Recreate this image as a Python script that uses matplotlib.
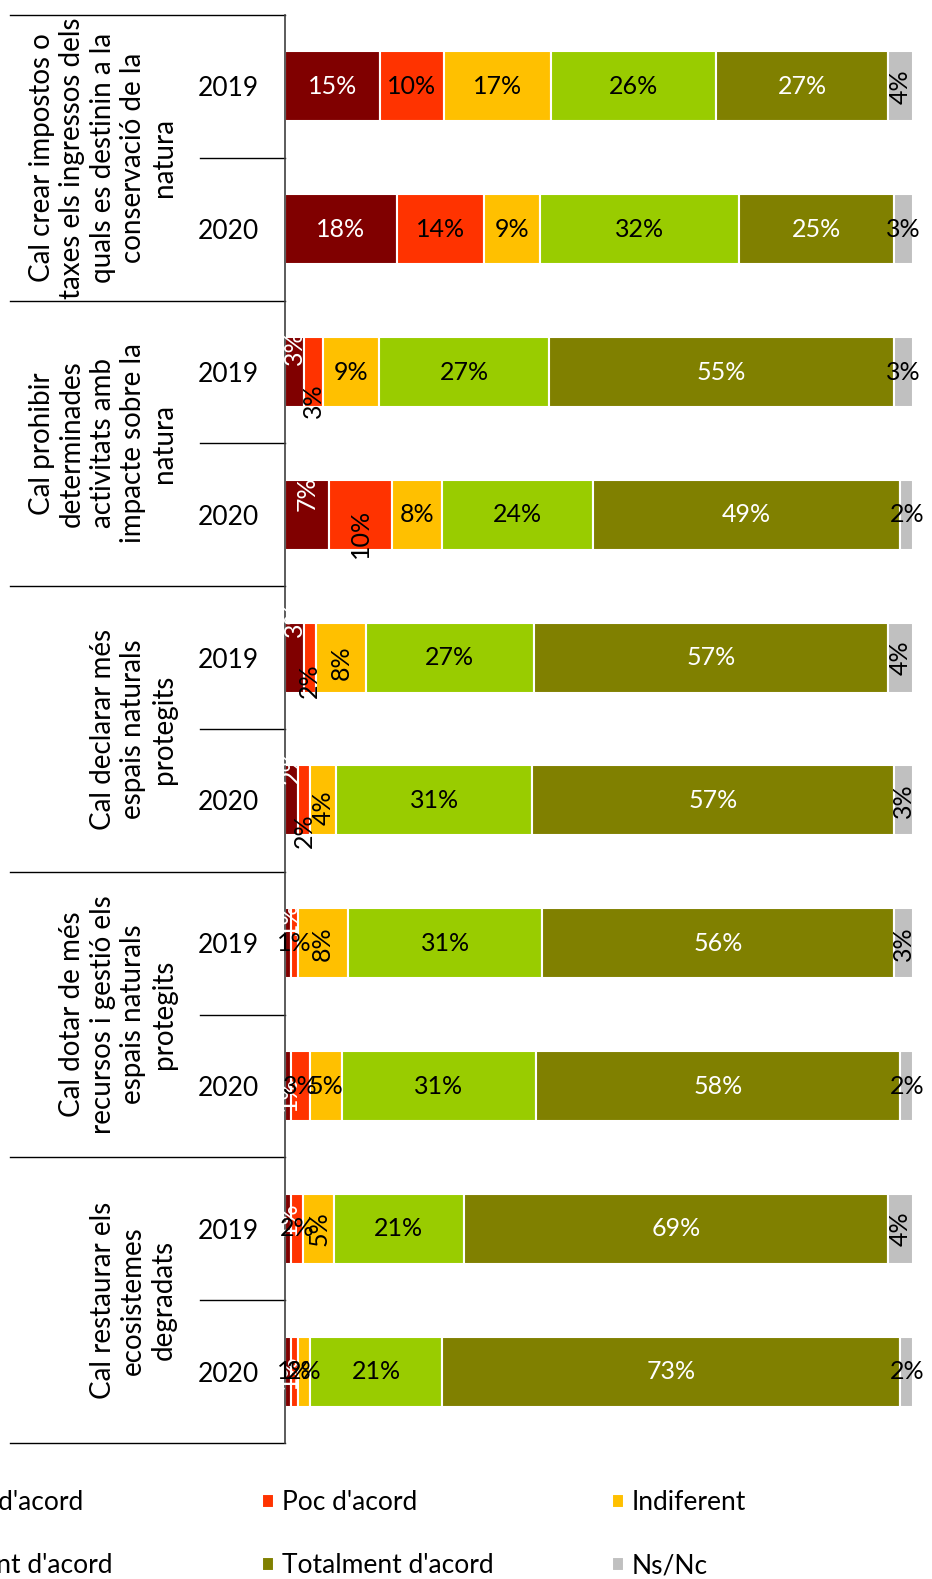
import matplotlib.pyplot as plt
import numpy as np

plt.rcParams['font.family'] = ['Lato', 'DejaVu Sans']

groups = [
    "Cal crear impostos o\ntaxes els ingressos dels\nquals es destinin a la\nconservació de la\nnatura",
    "Cal prohibir\ndeterminades\nactivitats amb\nimpacte sobre la\nnatura",
    "Cal declarar més\nespais naturals\nprotegits",
    "Cal dotar de més\nrecursos i gestió els\nespais naturals\nprotegits",
    "Cal restaurar els\necosistemes\ndegradats",
]
years = ["2019", "2020"] * 5
series = ["Gens d'acord", "Poc d'acord", "Indiferent",
          "Bastant d'acord", "Totalment d'acord", "Ns/Nc"]

gens = [15, 18, 3, 7, 3, 2, 1, 1, 1, 1]
poc = [10, 14, 3, 10, 2, 2, 1, 3, 2, 1]
indif = [17, 9, 9, 8, 8, 4, 8, 5, 5, 2]
bastant = [26, 32, 27, 24, 27, 31, 31, 31, 21, 21]
totalment = [27, 25, 55, 49, 57, 57, 56, 58, 69, 73]
nsnc = [4, 3, 3, 2, 4, 3, 3, 2, 4, 2]

colors = ["#800000", "#FF3300", "#FFC000", "#99CC00", "#808000", "#C0C0C0"]
text_colors = ["white", "black", "black", "black", "white", "black"]

# labels that sit rotated in the original (row, segment) and their shift in px
rotated = {(0, 5), (2, 0), (2, 1), (3, 0), (3, 1), (4, 0), (4, 1), (4, 2), (4, 5),
           (5, 0), (5, 1), (5, 2), (5, 5), (6, 0), (6, 2), (6, 5), (7, 0),
           (8, 0), (8, 2), (8, 5), (9, 0)}
shift_px = {(2, 0): -24, (2, 1): 29, (3, 0): -21, (3, 1): 19, (4, 0): -38,
            (4, 1): 23, (4, 2): 5, (5, 0): -34, (5, 1): 30, (5, 2): 7,
            (6, 0): -25, (7, 0): 8, (8, 0): -10}

W, H = 932, 1579
fig = plt.figure(figsize=(W / 100, H / 100), dpi=100)
ax = fig.add_axes([285 / W, 1 - 1443 / H, 628 / W, 1428 / H])

data = np.array([gens, poc, indif, bastant, totalment, nsnc], dtype=float)
norm = data / data.sum(axis=0) * 100
y = np.arange(len(years))
left = np.zeros(len(years))
containers = []
for k, name in enumerate(series):
    c = ax.barh(y, norm[k], left=left, height=0.49, color=colors[k],
                edgecolor="white", linewidth=1.5, label=name)
    containers.append(c)
    for i in range(len(years)):
        rot = 90 if (i, k) in rotated else 0
        dy = shift_px.get((i, k), 0) / 142.8
        ax.text(left[i] + norm[k][i] / 2, i + dy, f"{int(data[k][i])}%",
                ha="center", va="center", rotation=rot, fontsize=18,
                color=text_colors[k])
    left += norm[k]

ax.set_xlim(0, 100)
ax.set_ylim(9.5, -0.5)
ax.set_xticks([])
ax.set_yticks(y, years, fontsize=19)
ax.tick_params(axis="y", length=0, pad=19)
for s in ["top", "right", "bottom"]:
    ax.spines[s].set_visible(False)
ax.spines["left"].set_color("#404040")
ax.spines["left"].set_linewidth(1.2)

tr = ax.get_yaxis_transform()
for b in np.arange(-0.5, 10, 2):
    ax.plot([-0.438, 0], [b, b], color="black", lw=1, transform=tr, clip_on=False)
for b in np.arange(0.5, 10, 2):
    ax.plot([-0.135, 0], [b, b], color="black", lw=1, transform=tr, clip_on=False)
for g, label in enumerate(groups):
    ax.text(-0.172, 2 * g + 0.5, label, transform=tr, rotation=90, ha="right",
            va="center", multialignment="center", fontsize=20, linespacing=1.22)

cols = [(-88, [0, 3]), (262, [1, 4]), (612, [2, 5])]
for x, idx in cols:
    fig.legend([containers[j] for j in idx], [series[j] for j in idx],
               loc="upper left", bbox_to_anchor=(x / W, 1 - 1490 / H),
               frameon=False, fontsize=19, handlelength=0.45, handleheight=0.45,
               handletextpad=0.3, labelspacing=1.45, borderpad=0, borderaxespad=0)

fig.savefig("out.png", dpi=100)
